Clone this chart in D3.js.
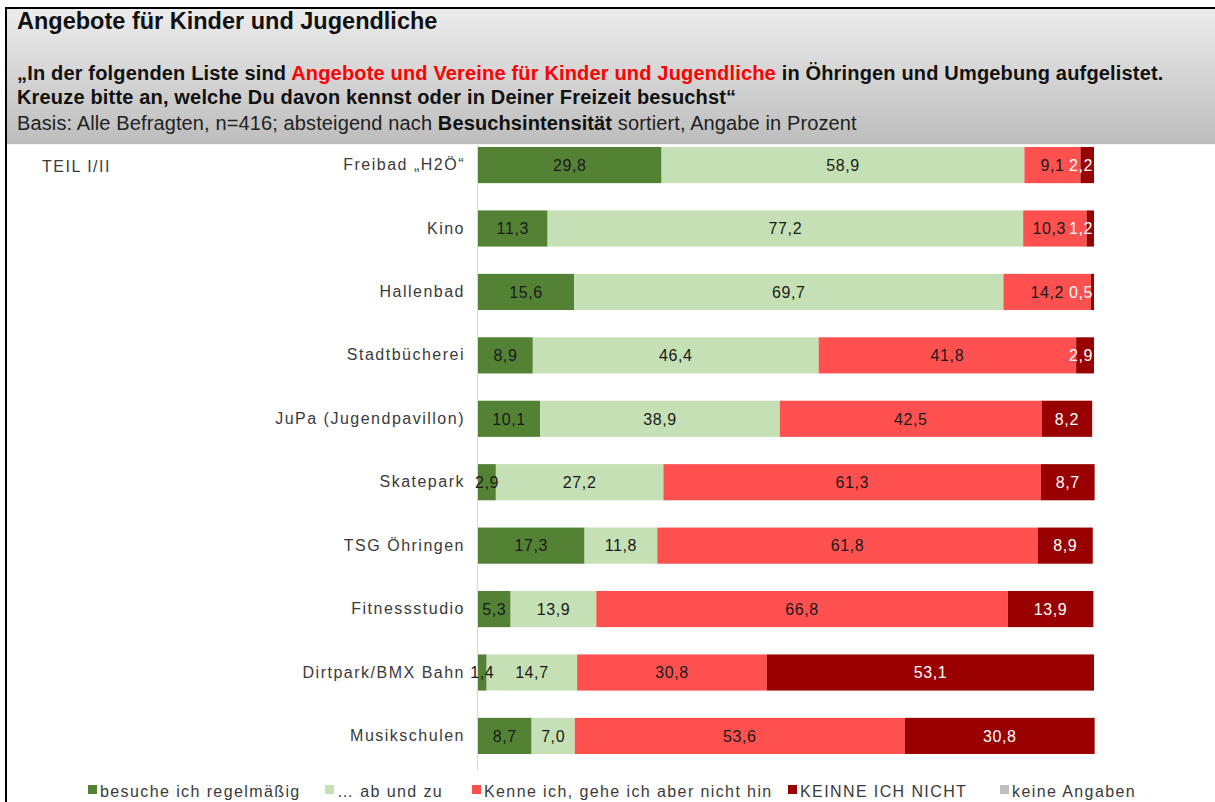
<!DOCTYPE html>
<html>
<head>
<meta charset="utf-8">
<script src="https://cdn.jsdelivr.net/npm/d3@7"></script>
<style>
    body { margin: 0; background: #fff; }
    svg { display: block; font-family: "Liberation Sans", Arial, sans-serif; }
    .cat-label { font-size: 16px; fill: #3a3a3a; letter-spacing: 1.5px; }
    .val-label { font-size: 16px; letter-spacing: 0.6px; }
    .legend-text { font-size: 16px; fill: #3a3a3a; letter-spacing: 1.4px; }
</style>
</head>
<body>
<script>
const categories = ['Freibad „H2Ö“', 'Kino', 'Hallenbad', 'Stadtbücherei', 'JuPa (Jugendpavillon)',
    'Skatepark', 'TSG Öhringen', 'Fitnessstudio', 'Dirtpark/BMX Bahn', 'Musikschulen']
const regelmaessig = [29.8, 11.3, 15.6, 8.9, 10.1, 2.9, 17.3, 5.3, 1.4, 8.7]
const abUndZu = [58.9, 77.2, 69.7, 46.4, 38.9, 27.2, 11.8, 13.9, 14.7, 7.0]
const kenneNichtHin = [9.1, 10.3, 14.2, 41.8, 42.5, 61.3, 61.8, 66.8, 30.8, 53.6]
const kenneIchNicht = [2.2, 1.2, 0.5, 2.9, 8.2, 8.7, 8.9, 13.9, 53.1, 30.8]
const keineAngaben = [0, 0, 0, 0, 0, 0, 0, 0, 0, 0]
const legendLabels = ['besuche ich regelmäßig', '… ab und zu', 'Kenne ich, gehe ich aber nicht hin',
    'KEINNE ICH NICHT', 'keine Angaben']

const keys = ['regel', 'abzu', 'kenne', 'nicht', 'keine']
const colors = ['#548235', '#c5e0b4', '#ff5050', '#990000', '#bfbfbf']
const textColors = ['#1a1a1a', '#1a1a1a', '#1a1a1a', '#ffffff', '#1a1a1a']

const table = categories.map((c, i) => ({
    name: c,
    regel: regelmaessig[i],
    abzu: abUndZu[i],
    kenne: kenneNichtHin[i],
    nicht: kenneIchNicht[i],
    keine: keineAngaben[i]
}))

let width = 1215, height = 802

let svg = d3.select("body").append("svg")
    .attr("width", width)
    .attr("height", height)

// header box
let defs = svg.append("defs")
let grad = defs.append("linearGradient")
    .attr("id", "headGrad")
    .attr("x1", 0).attr("y1", 0).attr("x2", 0).attr("y2", 1)
grad.append("stop").attr("offset", "0%").attr("stop-color", "#ececec")
grad.append("stop").attr("offset", "100%").attr("stop-color", "#bdbdbd")

svg.append("rect")
    .attr("x", 7).attr("y", 9)
    .attr("width", width - 7).attr("height", 135)
    .attr("fill", "url(#headGrad)")
svg.append("line")
    .attr("x1", 7).attr("x2", width)
    .attr("y1", 144.5).attr("y2", 144.5)
    .attr("stroke", "#f4f4f4")
svg.append("path")
    .attr("d", "M6," + height + "V8H" + width)
    .attr("fill", "none")
    .attr("stroke", "#000")
    .attr("stroke-width", 2)

svg.append("text")
    .attr("x", 17).attr("y", 29)
    .attr("font-size", "23.5px")
    .attr("font-weight", "bold")
    .attr("fill", "#111")
    .text("Angebote für Kinder und Jugendliche")

let q1 = svg.append("text")
    .attr("x", 17).attr("y", 80)
    .attr("font-size", "20px")
    .attr("font-weight", "bold")
    .attr("letter-spacing", "0.17px")
    .attr("fill", "#111")
q1.append("tspan").text("„In der folgenden Liste sind ")
q1.append("tspan").attr("fill", "#ff0000").text("Angebote und Vereine für Kinder und Jugendliche")
q1.append("tspan").text(" in Öhringen und Umgebung aufgelistet.")

svg.append("text")
    .attr("x", 17).attr("y", 104)
    .attr("font-size", "20px")
    .attr("font-weight", "bold")
    .attr("letter-spacing", "0.17px")
    .attr("fill", "#111")
    .text("Kreuze bitte an, welche Du davon kennst oder in Deiner Freizeit besuchst“")

let basis = svg.append("text")
    .attr("x", 17).attr("y", 130)
    .attr("font-size", "20px")
    .attr("letter-spacing", "0.12px")
    .attr("fill", "#222")
basis.append("tspan").text("Basis: Alle Befragten, n=416; absteigend nach ")
basis.append("tspan").attr("font-weight", "bold").attr("fill", "#111").text("Besuchsintensität")
basis.append("tspan").text(" sortiert, Angabe in Prozent")

svg.append("text")
    .attr("class", "cat-label")
    .attr("x", 42).attr("y", 172)
    .text("TEIL I/II")

// scales
let x = d3.scaleLinear().domain([0, 100]).range([478, 1094])
let y = d3.scaleBand().domain(categories).range([147, 754]).paddingInner(0.43).paddingOuter(0)

svg.append("line")
    .attr("x1", x(0) - 0.5).attr("x2", x(0) - 0.5)
    .attr("y1", 145).attr("y2", 770)
    .attr("stroke", "#d9d9d9")

let yAxis = svg.append("g")
    .attr("transform", "translate(" + x(0) + ",0)")
    .call(d3.axisLeft(y).tickSize(0).tickPadding(13))
yAxis.select(".domain").remove()
yAxis.selectAll("text")
    .attr("class", "cat-label")
    .attr("font-family", null)
    .attr("font-size", null)
    .attr("fill", null)

const stacked = d3.stack().keys(keys)(table)

stacked.map((s, k) => {
    svg.append("g")
        .selectAll("rect")
        .data(s).enter()
        .append("rect")
        .attr("fill", colors[k])
        .attr("x", d => x(d[0]))
        .attr("y", d => y(d.data.name))
        .attr("width", d => Math.max(0, x(d[1]) - x(d[0])))
        .attr("height", y.bandwidth())
})

// value labels, pushed left where they would run off the bar or overlap
table.map((row, i) => {
    let labels = []
    stacked.map((s, k) => {
        const d = s[i]
        const v = d[1] - d[0]
        if (v <= 0 || keys[k] === 'keine') return
        const t = svg.append("text")
            .attr("class", "val-label")
            .attr("text-anchor", "middle")
            .attr("fill", textColors[k])
            .attr("y", y(row.name) + y.bandwidth() / 2)
            .attr("dy", "0.36em")
            .text(d3.format(".1f")(row[keys[k]]).replace(".", ","))
        const w = t.node().getComputedTextLength()
        labels.push({ t: t, w: w, cx: (x(d[0]) + x(d[1])) / 2 })
    })
    let limit = x(100) - 1
    for (let j = labels.length - 1; j >= 0; j--) {
        const l = labels[j]
        l.cx = Math.min(l.cx, limit - l.w / 2)
        limit = l.cx - l.w / 2 - 3
        l.t.attr("x", l.cx)
    }
})

// legend
const legendX = [88, 325, 472, 788, 1000]
let legend = svg.append("g")
legendLabels.map((lab, i) => {
    legend.append("rect")
        .attr("x", legendX[i]).attr("y", 785)
        .attr("width", 9).attr("height", 9)
        .attr("fill", colors[i])
    legend.append("text")
        .attr("class", "legend-text")
        .attr("x", legendX[i] + 12).attr("y", 797)
        .text(lab)
})
</script>
</body>
</html>
